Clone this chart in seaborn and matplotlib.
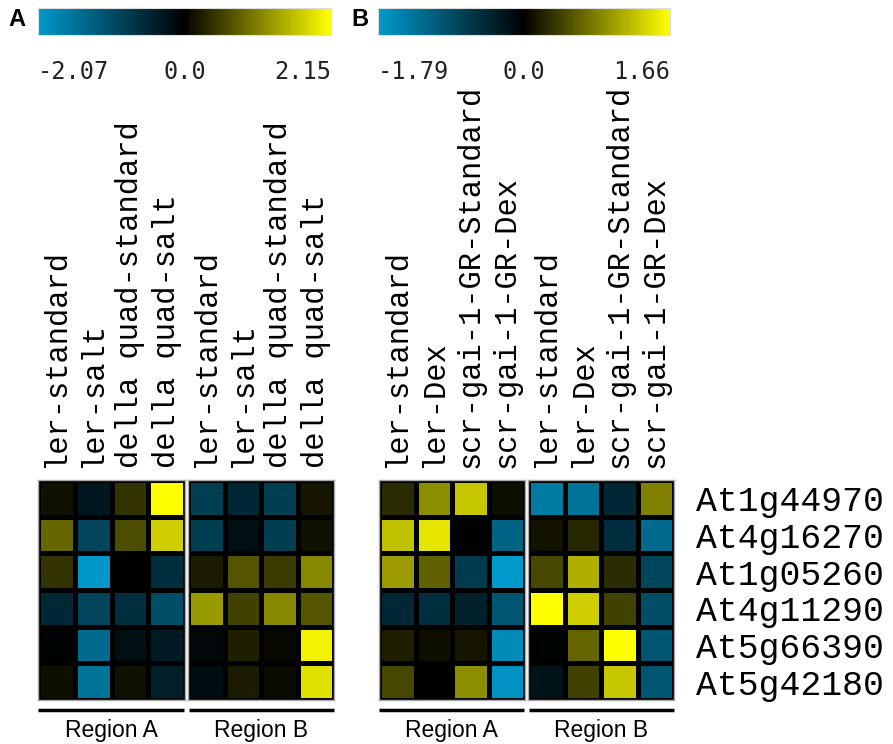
import numpy as np
import pandas as pd
import seaborn as sns
import matplotlib
matplotlib.use("Agg")
import matplotlib.pyplot as plt
from matplotlib.colors import LinearSegmentedColormap, TwoSlopeNorm
from matplotlib.lines import Line2D

# ---------------- data ----------------
genes = ["At1g44970", "At4g16270", "At1g05260", "At4g11290", "At5g66390", "At5g42180"]

cols_a = ["ler-standard", "ler-salt", "della quad-standard", "della quad-salt"]
cols_b = ["ler-standard", "ler-Dex", "scr-gai-1-GR-Standard", "scr-gai-1-GR-Dex"]
regions = ["Region A", "Region B"]

range_a = (-2.07, 2.15)
range_b = (-1.79, 1.66)
cbar_labels_a = ["-2.07", "0.0", "2.15"]
cbar_labels_b = ["-1.79", "0.0", "1.66"]

# panel A: Region A (4 cols), Region B (4 cols)
vals_a_regA = [
    [0.15, -0.31, 0.43, 2.15],
    [0.86, -0.93, 0.65, 1.72],
    [0.43, -2.03, 0.00, -0.62],
    [-0.52, -0.93, -0.62, -1.04],
    [-0.04, -1.45, -0.21, -0.37],
    [0.13, -1.55, 0.15, -0.41],
]
vals_a_regB = [
    [-0.83, -0.52, -0.83, 0.17],
    [-0.83, -0.21, -0.83, 0.15],
    [0.22, 0.71, 0.49, 1.14],
    [1.29, 0.54, 1.14, 0.71],
    [-0.10, 0.26, 0.06, 2.04],
    [-0.17, 0.22, 0.09, 1.89],
]
# panel B
vals_b_regA = [
    [0.28, 0.91, 1.28, 0.08],
    [1.25, 1.49, 0.00, -1.16],
    [1.00, 0.63, -0.68, -1.79],
    [-0.45, -0.54, -0.39, -0.98],
    [0.20, 0.10, 0.13, -1.61],
    [0.46, 0.00, 0.91, -1.70],
]
vals_b_regB = [
    [-1.43, -1.34, -0.45, 0.83],
    [0.12, 0.25, -0.54, -1.25],
    [0.46, 1.13, 0.28, -0.81],
    [1.66, 1.33, 0.42, -0.90],
    [-0.04, 0.66, 1.66, -0.98],
    [-0.21, 0.42, 1.29, -0.98],
]

# ---------------- style ----------------
W, H = 893, 744
fig = plt.figure(figsize=(W / 100, H / 100), dpi=100)
fig.patch.set_facecolor("white")

cmap = LinearSegmentedColormap.from_list("cyb", ["#0099CC", "#000000", "#FFFF00"])
mono = ["Liberation Mono", "DejaVu Sans Mono"]


def px_axes(x0, y0, x1, y1):
    return fig.add_axes([x0 / W, 1 - y1 / H, (x1 - x0) / W, (y1 - y0) / H])


def draw_block(x0, x1, vals, cols, norm, show_rows):
    ax = px_axes(x0, 480, x1, 700)
    df = pd.DataFrame(vals, index=genes, columns=cols)
    sns.heatmap(df, ax=ax, cmap=cmap, norm=norm, cbar=False,
                linewidths=2.5, linecolor="black",
                xticklabels=True, yticklabels=show_rows)
    ax.xaxis.tick_top()
    ax.set_xticklabels(cols, rotation=90, fontfamily=mono, fontsize=22)
    ax.tick_params(axis="x", length=0, pad=9)
    if show_rows:
        ax.yaxis.tick_right()
        ax.set_yticklabels(genes, rotation=0, fontfamily=mono, fontsize=25)
        ax.tick_params(axis="y", length=0, pad=16)
    else:
        ax.set_yticks([])
    ax.set_xlabel("")
    ax.set_ylabel("")
    for s in ax.spines.values():
        s.set_visible(True)
        s.set_color("#aaaaaa")
        s.set_linewidth(1.0)
    return ax


def draw_cbar(x0, x1, norm, labels):
    cax = px_axes(x0, 8, x1, 35)
    sm = matplotlib.cm.ScalarMappable(norm=norm, cmap=cmap)
    cb = fig.colorbar(sm, cax=cax, orientation="horizontal")
    cb.outline.set_edgecolor("#dddddd")
    cb.outline.set_linewidth(0.8)
    cb.set_ticks([norm.vmin, 0.0, norm.vmax])
    cb.set_ticklabels(labels)
    cax.tick_params(length=0, pad=18, labelsize=17)
    for lbl, ha in zip(cax.get_xticklabels(), ["left", "center", "right"]):
        lbl.set_ha(ha)
        lbl.set_fontfamily("DejaVu Sans Mono")
        lbl.set_color("#222222")


def region_labels(spans):
    for (a, b), name in zip(spans, regions):
        fig.add_artist(Line2D([a / W, b / W], [1 - 710 / H, 1 - 710 / H],
                              color="black", linewidth=2.5,
                              solid_capstyle="butt"))
        fig.text((a + b) / 2 / W, 1 - 730 / H, name, ha="center", va="center",
                 fontsize=16.5, fontfamily="Liberation Sans")


norm_a = TwoSlopeNorm(vmin=range_a[0], vcenter=0.0, vmax=range_a[1])
norm_b = TwoSlopeNorm(vmin=range_b[0], vcenter=0.0, vmax=range_b[1])

# Panel A
draw_block(38, 185, vals_a_regA, cols_a, norm_a, False)
draw_block(188, 334, vals_a_regB, cols_a, norm_a, False)
draw_cbar(38, 331, norm_a, cbar_labels_a)
region_labels([(38, 184), (189, 334)])

# Panel B
draw_block(379, 525, vals_b_regA, cols_b, norm_b, False)
draw_block(528, 674, vals_b_regB, cols_b, norm_b, True)
draw_cbar(378, 670, norm_b, cbar_labels_b)
region_labels([(379, 524), (529, 674)])

fig.text(17 / W, 1 - 20 / H, "A", ha="center", va="center", fontsize=17,
         fontweight="bold", fontfamily="Liberation Sans")
fig.text(360 / W, 1 - 20 / H, "B", ha="center", va="center", fontsize=17,
         fontweight="bold", fontfamily="Liberation Sans")

fig.savefig("out.png", dpi=100, facecolor="white")
